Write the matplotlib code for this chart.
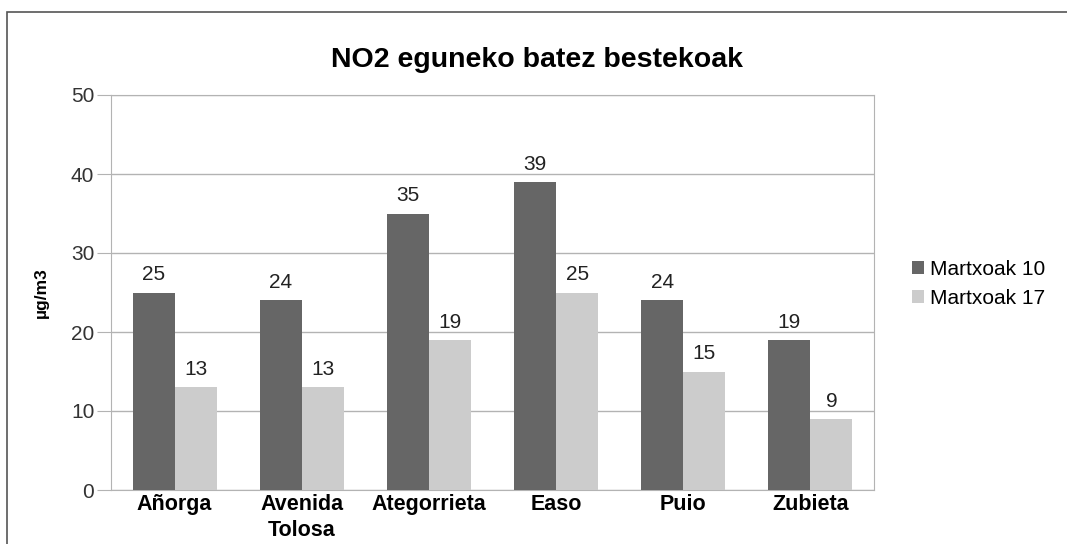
import numpy as np
import matplotlib.pyplot as plt
from matplotlib.patches import Rectangle

plt.rcParams['font.family'] = ['Liberation Sans', 'DejaVu Sans']

# data
stations = ['Añorga', 'Avenida\nTolosa', 'Ategorrieta', 'Easo', 'Puio', 'Zubieta']
martxoak10 = [25, 24, 35, 39, 24, 19]
martxoak17 = [13, 13, 19, 25, 15, 9]
series_names = ['Martxoak 10', 'Martxoak 17']

fig = plt.figure(figsize=(10.67, 5.44), dpi=100)
ax = fig.add_axes([111/1067, 1 - 490/544, 763/1067, 395/544])

x = np.arange(len(stations))
w = 0.33
b1 = ax.bar(x - w/2, martxoak10, w, color='#666666', label=series_names[0], zorder=3)
b2 = ax.bar(x + w/2, martxoak17, w, color='#cccccc', label=series_names[1], zorder=3)

# value labels
for bars in (b1, b2):
    for r in bars:
        ax.annotate(str(int(r.get_height())), (r.get_x() + r.get_width()/2, r.get_height()),
                    xytext=(0, 6), textcoords='offset points', ha='center', va='bottom',
                    fontsize=15, color='#222222')

ax.set_xlim(-0.5, len(stations) - 0.5)
ax.set_ylim(0, 50)
ax.set_yticks([0, 10, 20, 30, 40, 50])
ax.yaxis.grid(True, color='#b3b3b3', linewidth=1, zorder=0)
ax.set_xticks(x)
ax.set_xticklabels(stations, fontweight='bold', fontsize=15.5, linespacing=1.3)
ax.tick_params(axis='x', length=0, pad=3)
ax.tick_params(axis='y', length=10, color='#b3b3b3', labelsize=15, pad=2, labelcolor='#333333')
for s in ax.spines.values():
    s.set_color('#b3b3b3')
ax.set_ylabel('µg/m3', fontweight='bold', fontsize=12.5, labelpad=16)

fig.text(537/1067, 1 - 60/544, 'NO2 eguneko batez bestekoak', fontweight='bold', fontsize=20.5,
         ha='center', va='center')

fig.legend(handles=[b1, b2], loc='center left', bbox_to_anchor=(893/1067, 1 - 284/544),
           frameon=False, fontsize=15, handlelength=0.6, handleheight=0.6,
           handletextpad=0.3, labelspacing=0.5)

# outer frame
fig.patches.append(Rectangle((7/1067, -0.05), 1.1, 1 - 12/544 + 0.05, transform=fig.transFigure,
                             fill=False, edgecolor='#555555', linewidth=1.2))

fig.savefig('out.png', dpi=100)
